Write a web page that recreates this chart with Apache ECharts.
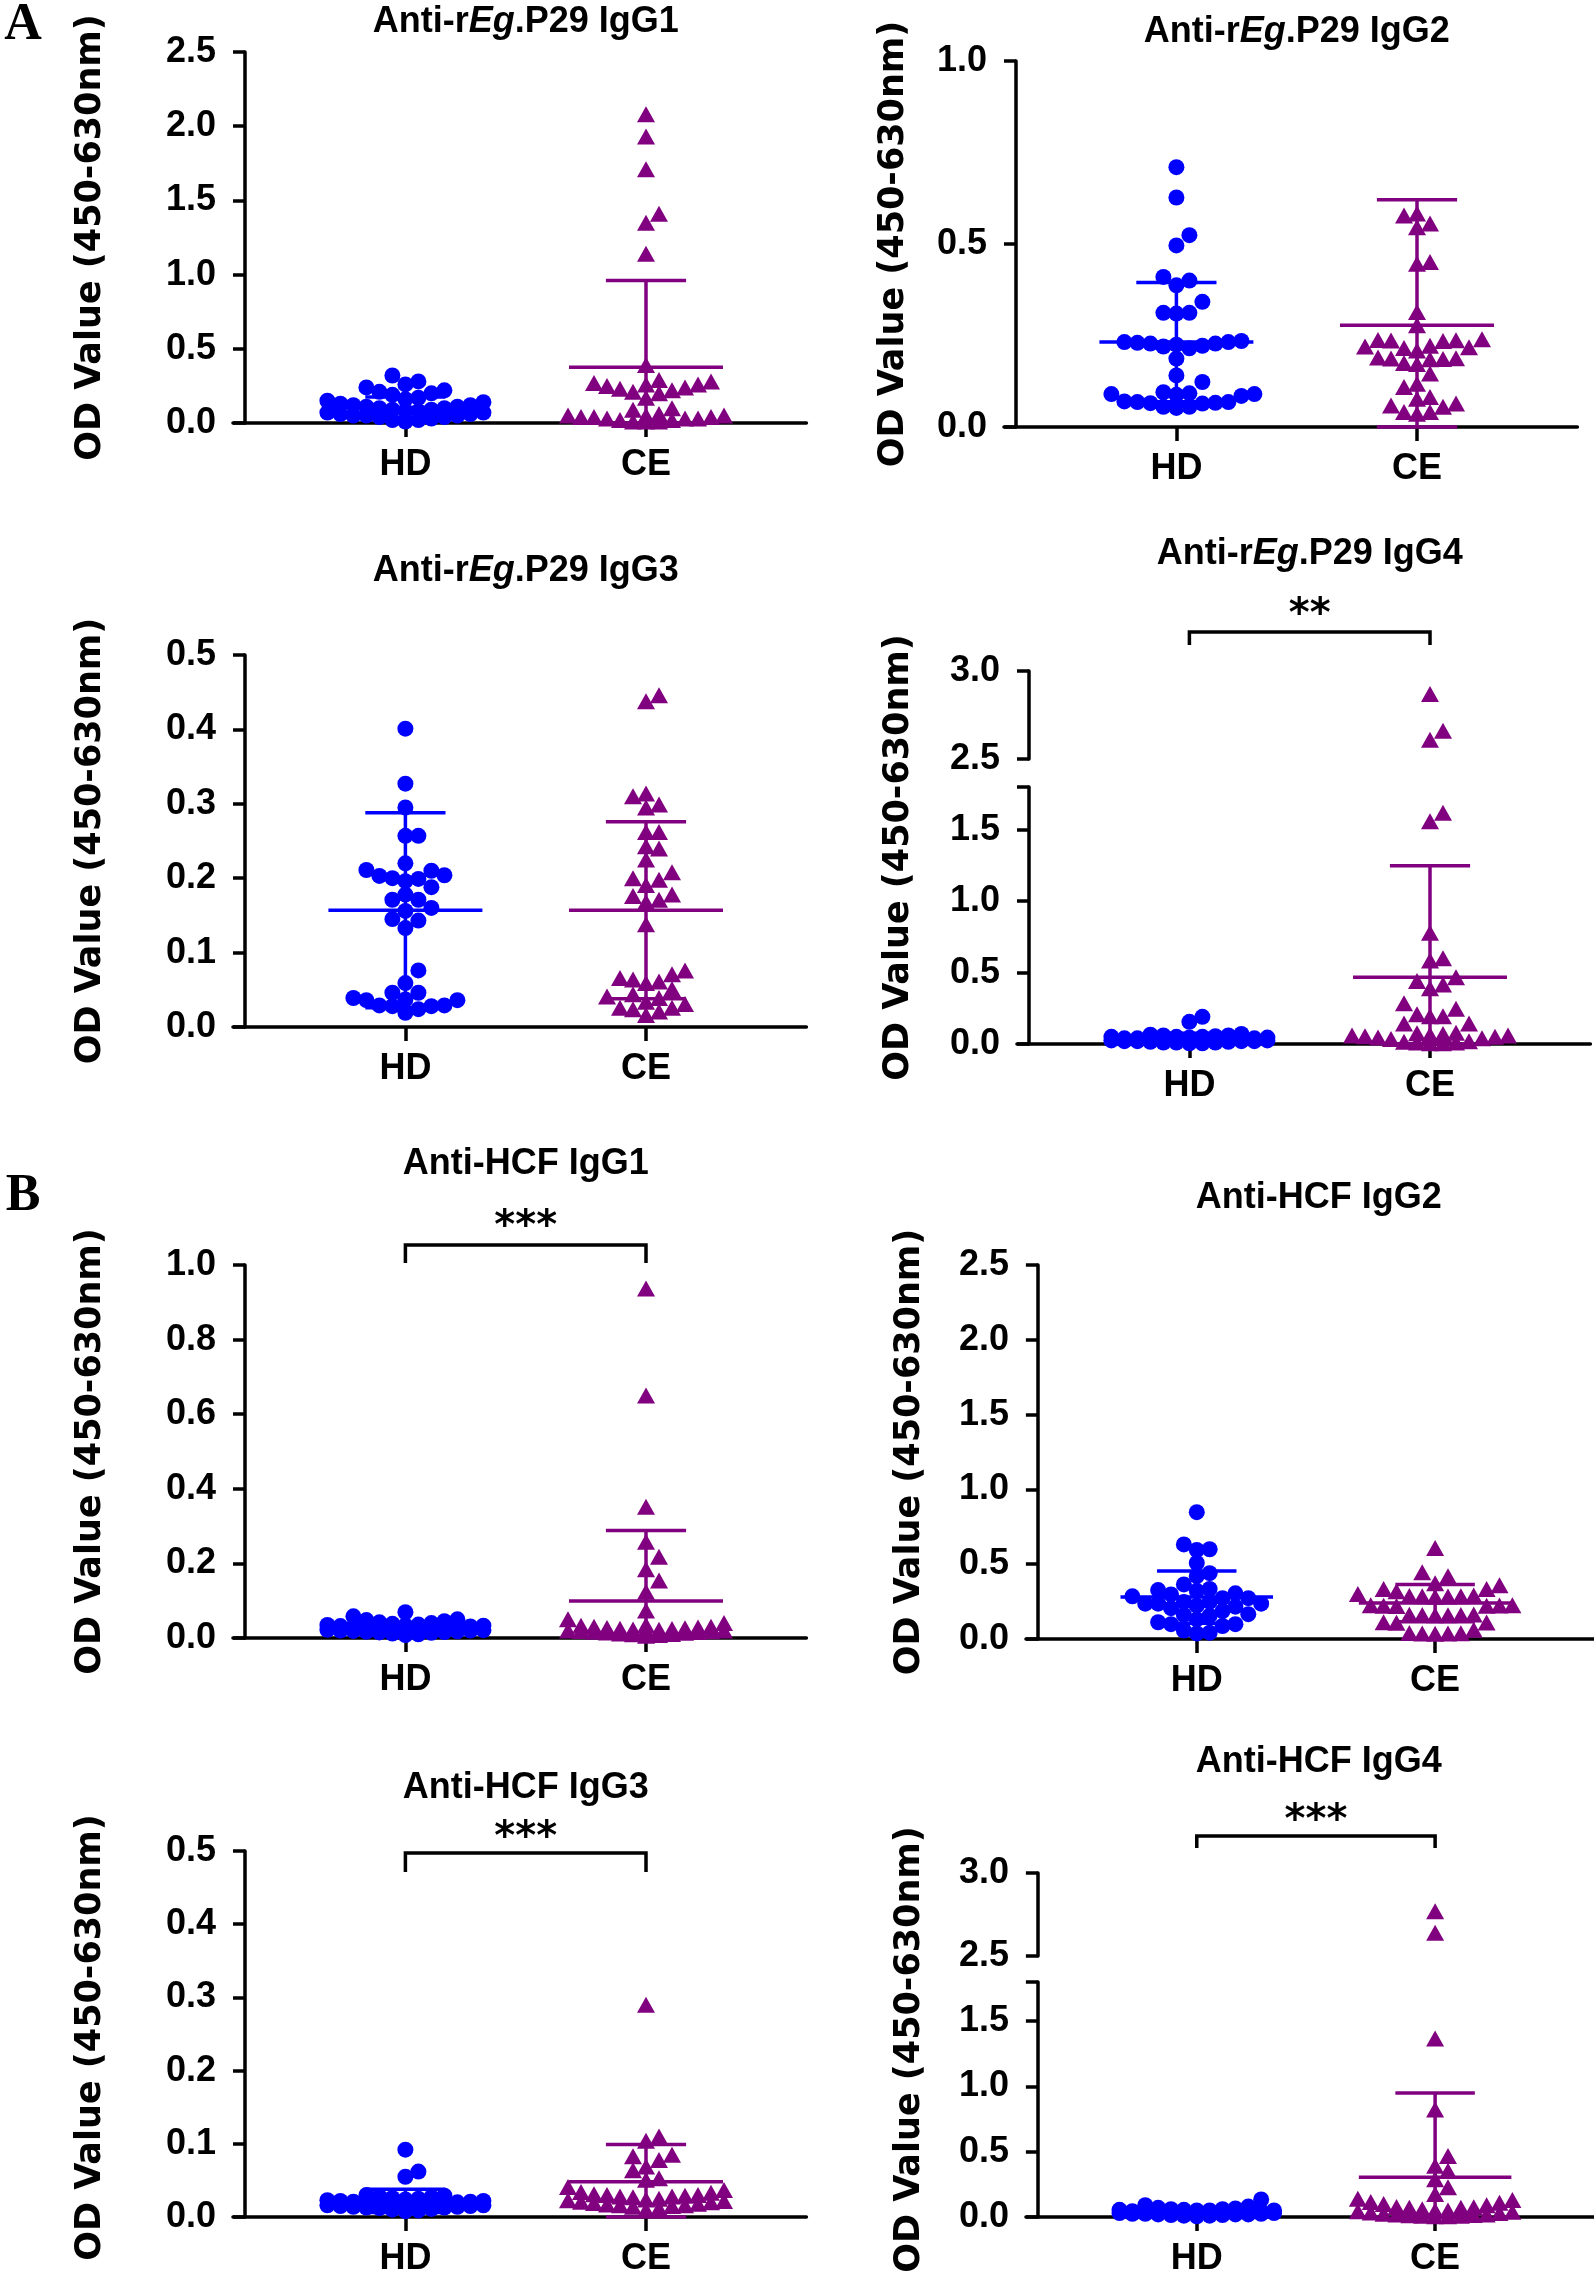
<!DOCTYPE html>
<html><head><meta charset="utf-8">
<script src="https://cdn.jsdelivr.net/npm/echarts@6/dist/echarts.min.js"></script>
<style>html,body{margin:0;padding:0;background:#fff}#c{width:1594px;height:2277px}</style>
</head><body><div id="c"></div>
<script>
// ---------------- DATA ----------------
const categories = ['HD', 'CE'];

const A1_HD = [0.32,0.28,0.26,0.24,0.22,0.21,0.20,0.19,0.17,0.16,0.15,0.14,0.13,0.12,0.12,0.11,0.11,0.10,0.10,0.09,0.09,0.08,0.08,0.07,0.07,0.06,0.06,0.05,0.05,0.05,0.04,0.04,0.03,0.02,0.02,0.01];
const A1_CE = [2.08,1.93,1.71,1.41,1.35,1.14,0.39,0.29,0.28,0.27,0.26,0.26,0.25,0.24,0.23,0.22,0.21,0.20,0.17,0.10,0.09,0.06,0.05,0.05,0.05,0.04,0.04,0.04,0.03,0.03,0.03,0.02,0.02,0.01,0.01,0.01];
const A1_MEAN = [0.105, 0.376];
const A1_SD = [0.07, 0.585];

const A2_HD = [0.71,0.627,0.524,0.496,0.41,0.40,0.387,0.342,0.312,0.312,0.31,0.235,0.232,0.232,0.23,0.228,0.228,0.225,0.222,0.22,0.215,0.187,0.141,0.123,0.095,0.092,0.09,0.09,0.088,0.085,0.07,0.068,0.068,0.066,0.065,0.064,0.055,0.055,0.052];
const A2_CE = [0.583,0.578,0.556,0.546,0.451,0.446,0.314,0.278,0.24,0.238,0.237,0.236,0.235,0.222,0.22,0.218,0.216,0.209,0.19,0.188,0.187,0.186,0.185,0.175,0.172,0.146,0.118,0.109,0.082,0.077,0.064,0.059,0.055,0.041,0.041,0.036];
const A2_MEAN = [0.232, 0.278];
const A2_SD = [0.163, 0.343];

const A3_HD = [0.401,0.327,0.295,0.257,0.257,0.22,0.211,0.21,0.204,0.203,0.2,0.199,0.196,0.188,0.178,0.171,0.171,0.16,0.156,0.145,0.143,0.133,0.076,0.059,0.046,0.046,0.039,0.037,0.036,0.036,0.029,0.029,0.028,0.028,0.024,0.019];
const A3_CE = [0.446,0.438,0.314,0.31,0.299,0.295,0.262,0.262,0.243,0.24,0.225,0.208,0.2,0.198,0.191,0.178,0.176,0.171,0.168,0.138,0.076,0.071,0.066,0.064,0.061,0.059,0.051,0.044,0.041,0.039,0.034,0.031,0.026,0.026,0.024,0.021,0.016];
const A3_MEAN = [0.157, 0.157];
const A3_SD = [0.131, 0.119];

const A4_HD = [0.19,0.155,0.07,0.065,0.06,0.06,0.055,0.05,0.05,0.05,0.045,0.045,0.04,0.04,0.04,0.035,0.035,0.035,0.03,0.03,0.03,0.03,0.025,0.025,0.025,0.02,0.02,0.02,0.02,0.015,0.015,0.01,0.01,0.01,0.005,0.005];
const A4_CE = [2.87,2.66,2.61,1.62,1.56,0.78,0.6,0.585,0.468,0.442,0.416,0.39,0.286,0.247,0.208,0.195,0.195,0.143,0.143,0.078,0.075,0.07,0.065,0.06,0.06,0.055,0.05,0.045,0.04,0.035,0.02,0.015,0.01,0.01,0.005,0.005];
const A4_MEAN = [0.04, 0.468];
const A4_SD = [0.035, 0.78];

const B1_HD = [0.069,0.058,0.05,0.048,0.045,0.042,0.04,0.038,0.036,0.035,0.034,0.033,0.032,0.031,0.03,0.03,0.029,0.028,0.027,0.026,0.025,0.024,0.023,0.022,0.021,0.02,0.02,0.019,0.018,0.017,0.016,0.015,0.014,0.012,0.01,0.008];
const B1_CE = [0.937,0.65,0.352,0.258,0.218,0.184,0.154,0.124,0.074,0.05,0.04,0.035,0.033,0.03,0.03,0.028,0.027,0.026,0.025,0.024,0.023,0.022,0.021,0.02,0.02,0.019,0.018,0.017,0.016,0.015,0.014,0.012,0.011,0.01,0.008,0.006];
const B1_MEAN = [0.029, 0.099];
const B1_SD = [0.012, 0.189];

const B2_HD = [0.848,0.632,0.6,0.595,0.508,0.44,0.42,0.365,0.335,0.327,0.322,0.305,0.298,0.285,0.273,0.273,0.248,0.248,0.236,0.236,0.236,0.223,0.216,0.206,0.186,0.166,0.161,0.156,0.131,0.112,0.099,0.099,0.087,0.057,0.042,0.037];
const B2_CE = [0.608,0.446,0.42,0.372,0.36,0.335,0.335,0.32,0.3,0.29,0.288,0.286,0.285,0.284,0.282,0.226,0.225,0.224,0.223,0.222,0.221,0.163,0.162,0.161,0.16,0.159,0.158,0.112,0.11,0.108,0.062,0.04,0.038,0.037,0.036,0.035];
const B2_MEAN = [0.28, 0.24];
const B2_SD = [0.175, 0.125];

const B3_HD = [0.092,0.062,0.055,0.03,0.029,0.028,0.027,0.026,0.025,0.024,0.023,0.022,0.022,0.021,0.021,0.02,0.02,0.019,0.019,0.018,0.018,0.017,0.017,0.016,0.016,0.015,0.015,0.014,0.014,0.013,0.013,0.012,0.011,0.01,0.009,0.008];
const B3_CE = [0.29,0.11,0.104,0.085,0.083,0.078,0.069,0.064,0.053,0.051,0.041,0.037,0.034,0.033,0.031,0.03,0.03,0.029,0.028,0.028,0.027,0.025,0.024,0.023,0.022,0.021,0.02,0.019,0.018,0.017,0.016,0.016,0.015,0.014,0.012,0.01];
const B3_MEAN = [0.022, 0.048];
const B3_SD = [0.016, 0.051];

const B4_HD = [0.134,0.09,0.08,0.07,0.065,0.06,0.06,0.055,0.055,0.05,0.05,0.05,0.045,0.045,0.045,0.04,0.04,0.04,0.035,0.035,0.035,0.03,0.03,0.03,0.03,0.025,0.025,0.025,0.02,0.02,0.02,0.015,0.015,0.01,0.01,0.005];
const B4_CE = [2.77,2.64,1.367,0.823,0.468,0.392,0.354,0.29,0.228,0.177,0.139,0.13,0.114,0.11,0.1,0.09,0.076,0.075,0.07,0.07,0.06,0.05,0.05,0.045,0.04,0.035,0.03,0.025,0.02,0.02,0.015,0.013,0.01,0.01,0.005,0.005];
const B4_MEAN = [0.04, 0.304];
const B4_SD = [0.03, 0.646];

// tick labels
const TICKS_25 = [0, 0.5, 1.0, 1.5, 2.0, 2.5];
const TICKS_10 = [0, 0.5, 1.0];
const TICKS_05 = [0, 0.1, 0.2, 0.3, 0.4, 0.5];
const TICKS_10B = [0, 0.2, 0.4, 0.6, 0.8, 1.0];
const TICKS_LOW = [0, 0.5, 1.0, 1.5];
const TICKS_UP = [2.5, 3.0];
const LOW_TOP = 1.8;

// ---------------- LAYOUT / STYLE ----------------
const catPos = [1, 2.5];
const XMIN = -0.075, XMAX = 3.5, PX = 160.4;
const AXW = 3.5, EBW = 3.5, MEAN_HALF = 0.48, CAP_HALF = 0.25;
const C_BLUE = '#0000ff', C_PURPLE = '#800080';
const F_SANS = '"Liberation Sans", Arial, sans-serif';
const F_WIDE = '"DejaVu Sans", Verdana, sans-serif';
const FS = 36;

const layout = {
  A1: {ax:245, top:52, bottom:423, titleY:22, labelX:91},
  A2: {ax:1016, top:61, bottom:427, titleY:32, labelX:894},
  A3: {ax:245, top:655, bottom:1027, titleY:571, labelX:91},
  A4: {ax:1029, top:787, bottom:1044, upTop:671, upBottom:759, titleY:554, labelX:899, br:{line:632, leg:13, star:608}},
  B1: {ax:245, top:1265, bottom:1638, titleY:1164, labelX:91, br:{line:1245, leg:18, star:1220}},
  B2: {ax:1038, top:1265, bottom:1639, titleY:1198, labelX:910},
  B3: {ax:245, top:1851, bottom:2224, titleY:1788, labelX:91, br:{line:1853, leg:19, star:1831}},
  B4: {ax:1038, top:1982, bottom:2226, upTop:1873, upBottom:1956, titleY:1762, labelX:910, br:{line:1836, leg:12, star:1814}}
};

const panels = [
  {key:'A1', title:'Anti-r{i|Eg}.P29 IgG1', hd:A1_HD, ce:A1_CE, mean:A1_MEAN, sd:A1_SD, ticks:TICKS_25},
  {key:'A2', title:'Anti-r{i|Eg}.P29 IgG2', hd:A2_HD, ce:A2_CE, mean:A2_MEAN, sd:A2_SD, ticks:TICKS_10},
  {key:'A3', title:'Anti-r{i|Eg}.P29 IgG3', hd:A3_HD, ce:A3_CE, mean:A3_MEAN, sd:A3_SD, ticks:TICKS_05},
  {key:'A4', title:'Anti-r{i|Eg}.P29 IgG4', hd:A4_HD, ce:A4_CE, mean:A4_MEAN, sd:A4_SD, broken:true, sig:'**'},
  {key:'B1', title:'Anti-HCF IgG1', hd:B1_HD, ce:B1_CE, mean:B1_MEAN, sd:B1_SD, ticks:TICKS_10B, sig:'***'},
  {key:'B2', title:'Anti-HCF IgG2', hd:B2_HD, ce:B2_CE, mean:B2_MEAN, sd:B2_SD, ticks:TICKS_25},
  {key:'B3', title:'Anti-HCF IgG3', hd:B3_HD, ce:B3_CE, mean:B3_MEAN, sd:B3_SD, ticks:TICKS_05, sig:'***'},
  {key:'B4', title:'Anti-HCF IgG4', hd:B4_HD, ce:B4_CE, mean:B4_MEAN, sd:B4_SD, broken:true, sig:'***'}
];

// beeswarm layout of points (pixel offsets), limited spread; overlaps when crowded
function swarm(vals, toPx, step, minD, maxSteps) {
  const idx = vals.map((v, i) => i).sort((a, b) => vals[a] - vals[b]);
  const placed = [], off = new Array(vals.length).fill(0);
  const cands = [0];
  for (let k = 1; k <= maxSteps; k++) { cands.push(k * step, -k * step); }
  for (const i of idx) {
    const y = toPx(vals[i]);
    let best = 0, bestD = -1;
    for (const o of cands) {
      let d = Infinity;
      for (const p of placed) d = Math.min(d, Math.hypot(p.x - o, p.y - y));
      if (d >= minD) { best = o; bestD = Infinity; break; }
      if (d > bestD + 0.5) { bestD = d; best = o; }
    }
    placed.push({x: best, y}); off[i] = best;
  }
  return off;
}

const grids = [], xAxes = [], yAxes = [], series = [], graphics = [];
const lineSt = {color: '#000', width: AXW};
const numLabel = {fontSize: FS, fontWeight: 'bold', fontFamily: F_SANS, color: '#000'};

function addGrid(L, top, bottom, showX) {
  const gi = grids.length;
  grids.push({left: L.ax + XMIN * PX, top: top, width: (XMAX - XMIN) * PX, height: bottom - top, containLabel: false});
  xAxes.push({
    gridIndex: gi, type: 'value', min: XMIN, max: XMAX,
    axisLine: {show: showX, onZero: true, lineStyle: lineSt},
    axisTick: {show: showX, customValues: catPos, length: 14, lineStyle: lineSt},
    axisLabel: {show: showX, customValues: catPos, margin: 24,
      formatter: v => Math.abs(v - catPos[0]) < 1e-6 ? categories[0] : (Math.abs(v - catPos[1]) < 1e-6 ? categories[1] : ''),
      ...numLabel},
    splitLine: {show: false}
  });
  return gi;
}
function yAx(gi, min, max, tickVals, labelVals) {
  yAxes.push({
    gridIndex: gi, type: 'value', min: min, max: max,
    axisLine: {show: true, onZero: true, lineStyle: lineSt},
    axisTick: {show: true, customValues: tickVals, length: 12, lineStyle: lineSt},
    axisLabel: {customValues: labelVals, margin: 17, formatter: v => v.toFixed(1), ...numLabel},
    splitLine: {show: false}
  });
}

function scatterSeries(gi, pts, isCE) {
  return {
    type: 'scatter', xAxisIndex: gi, yAxisIndex: gi, data: pts, clip: false,
    symbol: isCE ? 'triangle' : 'circle', symbolSize: isCE ? [18, 16] : 16,
    itemStyle: {color: isCE ? C_PURPLE : C_BLUE, opacity: 1}, silent: true, z: 3
  };
}

panels.forEach(p => {
  const L = layout[p.key];
  let gMain, gUp = null;
  let toPx;
  if (p.broken) {
    gUp = addGrid(L, L.upTop, L.upBottom, false);
    yAx(gUp, TICKS_UP[0], TICKS_UP[1], TICKS_UP, TICKS_UP);
    gMain = addGrid(L, L.top, L.bottom, true);
    yAx(gMain, 0, LOW_TOP, TICKS_LOW.concat([LOW_TOP]), TICKS_LOW);
    const lowScale = (L.bottom - L.top) / LOW_TOP;
    const upScale = (L.upBottom - L.upTop) / (TICKS_UP[1] - TICKS_UP[0]);
    toPx = v => v <= LOW_TOP ? v * lowScale : (L.bottom - L.upBottom) + (v - TICKS_UP[0]) * upScale;
  } else {
    gMain = addGrid(L, L.top, L.bottom, true);
    const ymax = p.ticks[p.ticks.length - 1];
    yAx(gMain, 0, ymax, p.ticks, p.ticks);
    toPx = v => v * (L.bottom - L.top) / ymax;
  }
  [p.hd, p.ce].forEach((vals, ci) => {
    const off = swarm(vals, toPx, 13, 13, 6);
    const low = [], up = [];
    vals.forEach((v, i) => {
      const pt = [catPos[ci] + off[i] / PX, v];
      if (p.broken && v > LOW_TOP) up.push(pt); else low.push(pt);
    });
    series.push(scatterSeries(gMain, low, ci === 1));
    if (up.length) series.push(scatterSeries(gUp, up, ci === 1));
  });
  // mean +- SD bars
  series.push({
    type: 'custom', xAxisIndex: gMain, yAxisIndex: gMain, silent: true, z: 5, clip: false,
    encode: {x: 0, y: 1},
    data: [[catPos[0], p.mean[0], p.sd[0], 0], [catPos[1], p.mean[1], p.sd[1], 1]],
    renderItem: (params, api) => {
      const x = api.value(0), m = api.value(1), s = api.value(2), ci = api.value(3);
      const c = api.coord([x, m]), t = api.coord([x, m + s]), b = api.coord([x, Math.max(0, m - s)]);
      const hm = api.size([MEAN_HALF, 0])[0], hc = api.size([CAP_HALF, 0])[0];
      const st = {stroke: ci ? C_PURPLE : C_BLUE, lineWidth: EBW, fill: null};
      return {type: 'group', children: [
        {type: 'line', shape: {x1: c[0] - hm, y1: c[1], x2: c[0] + hm, y2: c[1]}, style: st},
        {type: 'line', shape: {x1: t[0], y1: t[1], x2: b[0], y2: b[1]}, style: st},
        {type: 'line', shape: {x1: t[0] - hc, y1: t[1], x2: t[0] + hc, y2: t[1]}, style: st},
        {type: 'line', shape: {x1: b[0] - hc, y1: b[1], x2: b[0] + hc, y2: b[1]}, style: st}
      ]};
    }
  });
  // significance bracket
  if (p.sig) {
    const gB = p.broken ? gUp : gMain;
    const br = L.br;
    series.push({
      type: 'custom', xAxisIndex: gB, yAxisIndex: gB, silent: true, z: 5, clip: false,
      data: [[catPos[0], catPos[1]]], encode: {x: [0, 1]},
      renderItem: (params, api) => {
        const yv = p.broken ? TICKS_UP[0] : 0;
        const x1 = api.coord([api.value(0), yv])[0], x2 = api.coord([api.value(1), yv])[0];
        return {type: 'group', children: [
          {type: 'polyline', shape: {points: [[x1, br.line + br.leg], [x1, br.line], [x2, br.line], [x2, br.line + br.leg]]},
            style: {stroke: '#000', lineWidth: AXW, fill: null}},
          {type: 'text', x: (x1 + x2) / 2, y: br.star + 8,
            style: {text: p.sig, font: 'bold 40px ' + F_WIDE, fill: '#000', align: 'center', verticalAlign: 'middle'}}
        ]};
      }
    });
  }
  // title
  const cx = L.ax + (catPos[0] + catPos[1]) / 2 * PX;
  graphics.push({type: 'text', x: cx, y: L.titleY, silent: true,
    style: {text: p.title, font: 'bold ' + FS + 'px ' + F_SANS, fill: '#000', align: 'center', verticalAlign: 'middle',
      rich: {i: {fontStyle: 'italic', fontWeight: 'bold', fontSize: FS, fontFamily: F_SANS}}}});
  // y axis name
  const yTop = p.broken ? L.upTop : L.top;
  graphics.push({type: 'text', x: L.labelX, y: (yTop + L.bottom) / 2, rotation: Math.PI / 2, silent: true,
    style: {text: 'OD Value (450-630nm)', font: 'bold 35px ' + F_WIDE, fill: '#000', align: 'center', verticalAlign: 'middle'}});
});

// panel letters
graphics.push({type: 'text', x: 23, y: 26, silent: true,
  style: {text: 'A', font: 'bold 52px "Liberation Serif", "Times New Roman", serif', fill: '#000', align: 'center', verticalAlign: 'middle'}});
graphics.push({type: 'text', x: 23, y: 1197, silent: true,
  style: {text: 'B', font: 'bold 52px "Liberation Serif", "Times New Roman", serif', fill: '#000', align: 'center', verticalAlign: 'middle'}});

const chart = echarts.init(document.getElementById('c'), null, {renderer: 'canvas'});
chart.setOption({
  animation: false,
  backgroundColor: '#fff',
  grid: grids, xAxis: xAxes, yAxis: yAxes, series: series, graphic: graphics
});
</script></body></html>
